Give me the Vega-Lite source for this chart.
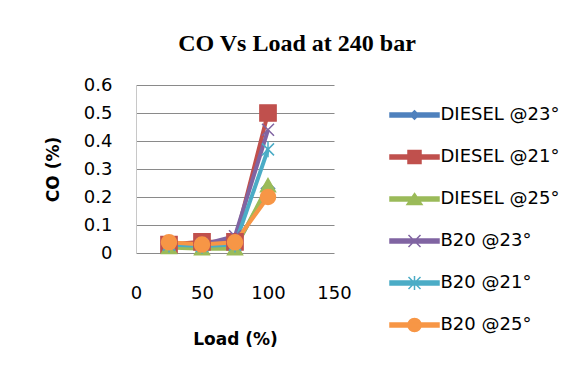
{
  "$schema": "https://vega.github.io/schema/vega-lite/v6.json",
  "autosize": {"type": "none"},
  "padding": {"left": 136, "top": 85, "right": 248, "bottom": 124},
  "width": 198,
  "height": 168,
  "background": "white",
  "title": {
    "text": "CO Vs Load at 240 bar",
    "font": "Liberation Serif",
    "fontSize": 24,
    "fontWeight": "bold",
    "color": "#000000",
    "anchor": "middle",
    "dx": 62,
    "offset": 20
  },
  "config": {
    "view": {"stroke": null},
    "axis": {
      "labelFont": "DejaVu Sans",
      "labelFontSize": 18,
      "labelColor": "#000000",
      "titleFont": "DejaVu Sans",
      "titleFontSize": 17,
      "titleFontWeight": "bold",
      "titleColor": "#000000",
      "ticks": false,
      "tickSize": 0
    }
  },
  "data": {
    "values": [
      {"series": "DIESEL @23°", "load": 25, "co": 0.03},
      {"series": "DIESEL @23°", "load": 50, "co": 0.03},
      {"series": "DIESEL @23°", "load": 75, "co": 0.02},
      {"series": "DIESEL @23°", "load": 100, "co": 0.23},
      {"series": "DIESEL @21°", "load": 25, "co": 0.03},
      {"series": "DIESEL @21°", "load": 50, "co": 0.04},
      {"series": "DIESEL @21°", "load": 75, "co": 0.04},
      {"series": "DIESEL @21°", "load": 100, "co": 0.5},
      {"series": "DIESEL @25°", "load": 25, "co": 0.02},
      {"series": "DIESEL @25°", "load": 50, "co": 0.015},
      {"series": "DIESEL @25°", "load": 75, "co": 0.015},
      {"series": "DIESEL @25°", "load": 100, "co": 0.24},
      {"series": "B20 @23°", "load": 25, "co": 0.03},
      {"series": "B20 @23°", "load": 50, "co": 0.03},
      {"series": "B20 @23°", "load": 75, "co": 0.06},
      {"series": "B20 @23°", "load": 100, "co": 0.44},
      {"series": "B20 @21°", "load": 25, "co": 0.03},
      {"series": "B20 @21°", "load": 50, "co": 0.025},
      {"series": "B20 @21°", "load": 75, "co": 0.03},
      {"series": "B20 @21°", "load": 100, "co": 0.37},
      {"series": "B20 @25°", "load": 25, "co": 0.038},
      {"series": "B20 @25°", "load": 50, "co": 0.03},
      {"series": "B20 @25°", "load": 75, "co": 0.038},
      {"series": "B20 @25°", "load": 100, "co": 0.2}
    ]
  },
  "encoding": {
    "x": {
      "field": "load",
      "type": "quantitative",
      "scale": {"domain": [0, 150], "nice": false},
      "axis": {
        "title": "Load (%)",
        "values": [0, 50, 100, 150],
        "labelPadding": 31,
        "labelFlush": false,
        "titlePadding": 29,
        "domain": false,
        "grid": false
      }
    },
    "y": {
      "field": "co",
      "type": "quantitative",
      "scale": {"domain": [0, 0.6], "nice": false},
      "axis": {
        "title": "CO (%)",
        "values": [0, 0.1, 0.2, 0.3, 0.4, 0.5, 0.6],
        "format": "~g",
        "labelPadding": 24,
        "titlePadding": 21,
        "domain": true,
        "domainColor": "#c8c8c8",
        "grid": true,
        "gridColor": "#8a8a8a",
        "gridWidth": 1
      }
    },
    "color": {
      "field": "series",
      "type": "nominal",
      "scale": {
        "domain": ["DIESEL @23°", "DIESEL @21°", "DIESEL @25°", "B20 @23°", "B20 @21°", "B20 @25°"],
        "range": ["#4F81BD", "#C0504D", "#9BBB59", "#8064A2", "#4BACC6", "#F79646"]
      },
      "legend": {
        "orient": "none",
        "legendX": 267.5,
        "legendY": 19,
        "padding": 0,
        "title": null,
        "labelFont": "DejaVu Sans",
        "labelFontSize": 18,
        "labelColor": "#000000",
        "labelOffset": 15,
        "rowPadding": 20,
        "symbolSize": 400,
        "symbolStrokeWidth": 1.5,
        "symbolType": {"expr": "datum.series ? (datum.series === 'DIESEL @23°' ? 'M0,-1.1L1.1,0L0,1.1L-1.1,0Z' : datum.series === 'DIESEL @21°' ? 'M-1.35,-1.35H1.35V1.35H-1.35Z' : datum.series === 'DIESEL @25°' ? 'M0,-1.2L1.25,1L-1.25,1Z' : datum.series === 'B20 @23°' ? 'M-1,-1L1,1M-1,1L1,-1' : datum.series === 'B20 @21°' ? 'M-1,-1L1,1M-1,1L1,-1M0,-1.3V1.3' : 'M1.25,0A1.25,1.25 0 1,1 -1.25,0A1.25,1.25 0 1,1 1.25,0Z') : (datum.value === 'DIESEL @23°' ? 'M-2.45,-0.2H2.45V0.2H-2.45ZM0,-0.42L0.42,0L0,0.42L-0.42,0ZM0,-0.75M0,0.75' : datum.value === 'DIESEL @21°' ? 'M-2.45,-0.2H2.45V0.2H-2.45ZM-0.65,-0.65H0.65V0.65H-0.65ZM0,-0.75M0,0.75' : datum.value === 'DIESEL @25°' ? 'M-2.45,-0.2H2.45V0.2H-2.45ZM0,-0.55L0.75,0.55L-0.75,0.55ZM0,-0.75M0,0.75' : datum.value === 'B20 @23°' ? 'M-2.45,-0.2H2.45V0.2H-2.45ZM-0.6,-0.6L0.6,0.6M-0.6,0.6L0.6,-0.6M0,-0.75M0,0.75' : datum.value === 'B20 @21°' ? 'M-2.45,-0.2H2.45V0.2H-2.45ZM-0.6,-0.6L0.6,0.6M-0.6,0.6L0.6,-0.6M0,-0.7V0.7M0,-0.75M0,0.75' : 'M-2.45,-0.2H2.45V0.2H-2.45ZM0.65,0A0.65,0.65 0 1,1 -0.65,0A0.65,0.65 0 1,1 0.65,0ZM0,-0.75M0,0.75')"}
      }
    }
  },
  "layer": [
    {
      "mark": {"type": "line", "strokeWidth": 4}
    },
    {
      "mark": {
        "type": "point",
        "filled": true,
        "size": 144,
        "strokeWidth": 1.5,
        "opacity": 1,
        "shape": {"expr": "datum.series ? (datum.series === 'DIESEL @23°' ? 'M0,-1.1L1.1,0L0,1.1L-1.1,0Z' : datum.series === 'DIESEL @21°' ? 'M-1.35,-1.35H1.35V1.35H-1.35Z' : datum.series === 'DIESEL @25°' ? 'M0,-1.2L1.25,1L-1.25,1Z' : datum.series === 'B20 @23°' ? 'M-1,-1L1,1M-1,1L1,-1' : datum.series === 'B20 @21°' ? 'M-1,-1L1,1M-1,1L1,-1M0,-1.3V1.3' : 'M1.25,0A1.25,1.25 0 1,1 -1.25,0A1.25,1.25 0 1,1 1.25,0Z') : (datum.value === 'DIESEL @23°' ? 'M-2.45,-0.2H2.45V0.2H-2.45ZM0,-0.42L0.42,0L0,0.42L-0.42,0ZM0,-0.75M0,0.75' : datum.value === 'DIESEL @21°' ? 'M-2.45,-0.2H2.45V0.2H-2.45ZM-0.65,-0.65H0.65V0.65H-0.65ZM0,-0.75M0,0.75' : datum.value === 'DIESEL @25°' ? 'M-2.45,-0.2H2.45V0.2H-2.45ZM0,-0.55L0.75,0.55L-0.75,0.55ZM0,-0.75M0,0.75' : datum.value === 'B20 @23°' ? 'M-2.45,-0.2H2.45V0.2H-2.45ZM-0.6,-0.6L0.6,0.6M-0.6,0.6L0.6,-0.6M0,-0.75M0,0.75' : datum.value === 'B20 @21°' ? 'M-2.45,-0.2H2.45V0.2H-2.45ZM-0.6,-0.6L0.6,0.6M-0.6,0.6L0.6,-0.6M0,-0.7V0.7M0,-0.75M0,0.75' : 'M-2.45,-0.2H2.45V0.2H-2.45ZM0.65,0A0.65,0.65 0 1,1 -0.65,0A0.65,0.65 0 1,1 0.65,0ZM0,-0.75M0,0.75')"}
      },
      "encoding": {
        "stroke": {
          "field": "series",
          "type": "nominal",
          "scale": {
            "domain": ["DIESEL @23°", "DIESEL @21°", "DIESEL @25°", "B20 @23°", "B20 @21°", "B20 @25°"],
            "range": ["#4F81BD", "#C0504D", "#9BBB59", "#8064A2", "#4BACC6", "#F79646"]
          },
          "legend": null
        }
      }
    }
  ]
}
